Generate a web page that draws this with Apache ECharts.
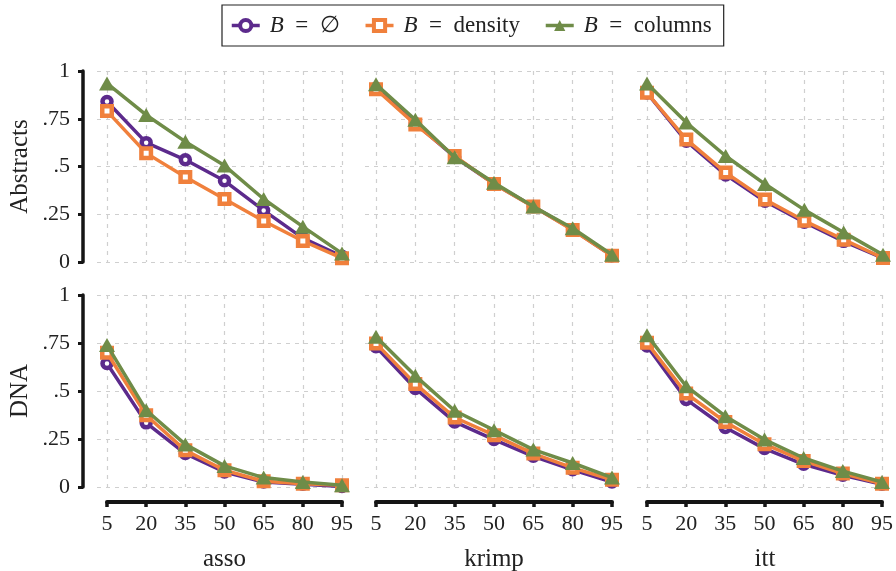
<!DOCTYPE html>
<html>
<head>
<meta charset="utf-8">
<script src="https://cdn.jsdelivr.net/npm/echarts@6/dist/echarts.min.js"></script>
<style>html,body{margin:0;padding:0;background:#fff}#c{width:896px;height:571px}</style>
</head>
<body>
<div id="c"></div>
<script>
// ---- data ----
const xCategories = ['5', '20', '35', '50', '65', '80', '95'];
const yTickValues = [0, 0.25, 0.5, 0.75, 1];
const yTickLabels = ['0', '.25', '.5', '.75', '1'];
const algorithms = ['asso', 'krimp', 'itt'];
const datasets = ['Abstracts', 'DNA'];
const seriesNames = ['B = ∅', 'B = density', 'B = columns'];

const abstractsAssoEmpty   = [0.84, 0.625, 0.535, 0.425, 0.27, 0.125, 0.03];
const abstractsAssoDensity = [0.79, 0.57, 0.445, 0.33, 0.215, 0.11, 0.02];
const abstractsAssoColumns = [0.935, 0.77, 0.63, 0.505, 0.33, 0.185, 0.045];

const abstractsKrimpEmpty   = [0.91, 0.725, 0.55, 0.41, 0.29, 0.17, 0.033];
const abstractsKrimpDensity = [0.905, 0.72, 0.555, 0.408, 0.29, 0.168, 0.033];
const abstractsKrimpColumns = [0.93, 0.745, 0.548, 0.415, 0.29, 0.177, 0.038];

const abstractsIttEmpty   = [0.885, 0.632, 0.456, 0.318, 0.208, 0.108, 0.02];
const abstractsIttDensity = [0.886, 0.642, 0.468, 0.327, 0.216, 0.117, 0.021];
const abstractsIttColumns = [0.934, 0.73, 0.555, 0.408, 0.273, 0.155, 0.038];

const dnaAssoEmpty   = [0.643, 0.334, 0.174, 0.078, 0.026, 0.014, 0.003];
const dnaAssoDensity = [0.699, 0.374, 0.191, 0.087, 0.03, 0.017, 0.009];
const dnaAssoColumns = [0.739, 0.40, 0.222, 0.11, 0.049, 0.026, 0.009];

const dnaKrimpEmpty   = [0.73, 0.513, 0.339, 0.247, 0.16, 0.09, 0.026];
const dnaKrimpDensity = [0.748, 0.537, 0.362, 0.27, 0.174, 0.10, 0.038];
const dnaKrimpColumns = [0.783, 0.579, 0.397, 0.296, 0.195, 0.125, 0.049];

const dnaIttEmpty   = [0.734, 0.456, 0.31, 0.20, 0.118, 0.061, 0.014];
const dnaIttDensity = [0.751, 0.487, 0.339, 0.223, 0.136, 0.07, 0.017];
const dnaIttColumns = [0.791, 0.525, 0.369, 0.247, 0.151, 0.083, 0.026];

const panelData = [
  [[abstractsAssoEmpty, abstractsAssoDensity, abstractsAssoColumns],
   [abstractsKrimpEmpty, abstractsKrimpDensity, abstractsKrimpColumns],
   [abstractsIttEmpty, abstractsIttDensity, abstractsIttColumns]],
  [[dnaAssoEmpty, dnaAssoDensity, dnaAssoColumns],
   [dnaKrimpEmpty, dnaKrimpDensity, dnaKrimpColumns],
   [dnaIttEmpty, dnaIttDensity, dnaIttColumns]]
];

// ---- layout / style ----
const FONT = 'Liberation Serif';
const colors = ['#5c2a8c', '#f0803c', '#6f8c48'];
const colX5 = [107, 376, 647];
const colX95 = [342, 612, 883];
const colBgLeft = [97, 365, 637];
const rowTop = [71, 295];
const rowBottom = [262, 487];
const gridDash = { color: '#cfcfcf', type: [4, 5], width: 1.2 };
const spineColor = '#151515';

const grids = [], xAxes = [], yAxes = [], series = [];
for (let r = 0; r < 2; r++) {
  for (let c = 0; c < 3; c++) {
    // background grid (horizontal grid lines, y spine)
    const bgIdx = grids.length;
    grids.push({ left: colBgLeft[c], top: rowTop[r], width: colX95[c] - colBgLeft[c], height: rowBottom[r] - rowTop[r], containLabel: false });
    xAxes.push({ gridIndex: bgIdx, type: 'value', min: 0, max: 1, show: false });
    yAxes.push({
      gridIndex: bgIdx, type: 'value', min: 0, max: 1, interval: 0.25,
      offset: colBgLeft[c] - 83,
      axisLine: { show: c === 0, onZero: false, lineStyle: { color: spineColor, width: 3.5 } },
      axisTick: { show: c === 0, length: 5, lineStyle: { color: spineColor, width: 3 } },
      axisLabel: {
        show: c === 0, margin: 13, fontFamily: FONT, fontSize: 22, color: '#222',
        formatter: v => { const i = yTickValues.findIndex(t => Math.abs(t - v) < 1e-9); return i >= 0 ? yTickLabels[i] : ''; }
      },
      splitLine: { show: true, lineStyle: gridDash }
    });
    // data grid
    const dIdx = grids.length;
    grids.push({ left: colX5[c], top: rowTop[r], width: colX95[c] - colX5[c], height: rowBottom[r] - rowTop[r], containLabel: false });
    xAxes.push({
      gridIndex: dIdx, type: 'category', data: xCategories, boundaryGap: false,
      offset: 15,
      axisLine: { show: r === 1, onZero: false, lineStyle: { color: spineColor, width: 4 } },
      axisTick: { show: r === 1, length: 5, interval: 0, lineStyle: { color: spineColor, width: 3.5 } },
      axisLabel: { show: r === 1, interval: 0, margin: 11, fontFamily: FONT, fontSize: 22, color: '#222' },
      splitLine: { show: true, interval: 0, lineStyle: gridDash }
    });
    yAxes.push({ gridIndex: dIdx, type: 'value', min: 0, max: 1, show: false });

    const symbols = ['circle', 'rect', 'triangle'];
    const sizes = [9, 9.5, [16, 14]];
    for (let s = 0; s < 3; s++) {
      const filled = s === 2;
      series.push({
        name: seriesNames[s], type: 'line', xAxisIndex: dIdx, yAxisIndex: dIdx,
        data: panelData[r][c][s], clip: false, animation: false,
        symbol: symbols[s], symbolSize: sizes[s], showAllSymbol: true,
        lineStyle: { color: colors[s], width: 3.5 },
        itemStyle: filled ? { color: colors[s] } : { color: '#ffffff', borderColor: colors[s], borderWidth: 4.5 },
        z: 2 + s
      });
    }
  }
}

const graphics = [];
const rowLabelY = [(rowTop[0] + rowBottom[0]) / 2, (rowTop[1] + rowBottom[1]) / 2];
datasets.forEach((d, r) => {
  graphics.push({ type: 'text', x: 20, y: rowLabelY[r], rotation: Math.PI / 2,
    style: { text: d, fontFamily: FONT, fontSize: 25, fill: '#222', textAlign: 'center', textVerticalAlign: 'middle' } });
});
algorithms.forEach((a, c) => {
  graphics.push({ type: 'text', x: (colX5[c] + colX95[c]) / 2, y: 559,
    style: { text: a, fontFamily: FONT, fontSize: 25, fill: '#222', textAlign: 'center', textVerticalAlign: 'middle' } });
});

const chart = echarts.init(document.getElementById('c'), null, { renderer: 'canvas' });
chart.setOption({
  animation: false,
  backgroundColor: '#ffffff',
  grid: grids, xAxis: xAxes, yAxis: yAxes, series: series,
  legend: {
    data: seriesNames, left: 222, top: 5,
    borderColor: '#222', borderWidth: 1.2, padding: [9, 12, 9, 8],
    itemWidth: 28, itemHeight: 14, itemGap: 24,
    itemStyle: { borderWidth: 4 },
    lineStyle: { width: 3.5 },
    textStyle: { fontFamily: FONT, fontSize: 23, color: '#222', padding: [0, 0, 0, 5],
      rich: { it: { fontFamily: FONT, fontSize: 23, fontStyle: 'italic', color: '#222' } } },
    formatter: name => '{it|B}' + name.slice(1).replace(/ = /, '\u2002=\u2002')
  },
  graphic: graphics
});
</script>
</body>
</html>
